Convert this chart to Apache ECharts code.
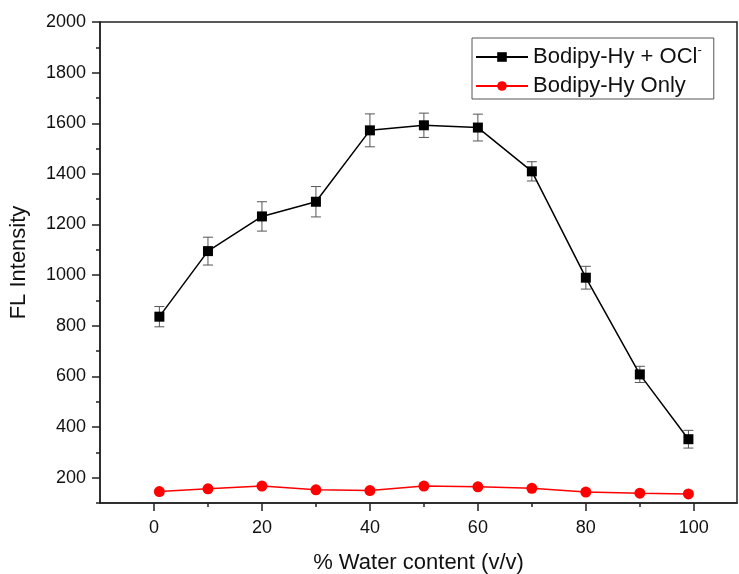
<!DOCTYPE html>
<html>
<head>
<meta charset="utf-8">
<script src="https://cdn.jsdelivr.net/npm/echarts@6/dist/echarts.min.js"></script>
<style>
  html, body { margin: 0; padding: 0; background: #fff; }
  #chart { width: 739px; height: 574px; }
</style>
</head>
<body>
<div id="chart"></div>
<script>
// % water content (v/v)
const water = [1, 10, 20, 30, 40, 50, 60, 70, 80, 90, 99]
// Bodipy-Hy + OCl- and its error (+/-)
const withOCl = [836, 1095, 1232, 1290, 1572, 1592, 1583, 1410, 990, 608, 352]
const withOClErr = [40, 55, 58, 60, 65, 48, 53, 38, 45, 32, 35]
// Bodipy-Hy only
const probeOnly = [145, 156, 167, 152, 149, 167, 164, 158, 143, 139, 136]

// tick labels / tick positions
const xTicks = [0, 20, 40, 60, 80, 100]
const xMinor = [10, 30, 50, 70, 90]
const yTicks = [200, 400, 600, 800, 1000, 1200, 1400, 1600, 1800, 2000]
const yMinor = [100, 300, 500, 700, 900, 1100, 1300, 1500, 1700, 1900]

const chart = echarts.init(document.getElementById('chart'))

const font = 'Liberation Sans, Arial, sans-serif'
const axisColor = '#222'

const errData = water.map((x, i) => [x, withOCl[i] - withOClErr[i], withOCl[i] + withOClErr[i]])

function renderErr(params, api) {
  const x = api.value(0)
  const lo = api.coord([x, api.value(1)])
  const hi = api.coord([x, api.value(2)])
  const half = 5
  const style = { stroke: '#555', lineWidth: 1, fill: null }
  return {
    type: 'group',
    children: [
      { type: 'line', shape: { x1: lo[0], y1: lo[1], x2: hi[0], y2: hi[1] }, style },
      { type: 'line', shape: { x1: lo[0] - half, y1: lo[1], x2: lo[0] + half, y2: lo[1] }, style },
      { type: 'line', shape: { x1: hi[0] - half, y1: hi[1], x2: hi[0] + half, y2: hi[1] }, style }
    ]
  }
}

const tickStyle = { color: axisColor, width: 1.5 }
const plain = v => String(v)

const option = {
  backgroundColor: '#fff',
  animation: false,
  textStyle: { fontFamily: font },
  grid: {
    left: 100, right: 2, top: 22, bottom: 71,
    outerBoundsMode: 'none',
    containLabel: false,
    show: true, borderColor: axisColor, borderWidth: 1.5,
    backgroundColor: 'transparent'
  },
  legend: {
    orient: 'vertical',
    left: 472, top: 38,
    data: ['Bodipy-Hy + OCl', 'Bodipy-Hy Only'],
    itemWidth: 52, itemHeight: 12, itemGap: 7,
    padding: [6, 12, 2, 3],
    borderColor: '#555', borderWidth: 1,
    formatter: function (name) {
      if (name === 'Bodipy-Hy + OCl') return '{t|' + name + '}{s|-}'
      return '{t|' + name + '}'
    },
    textStyle: {
      fontFamily: font, fontSize: 22, color: '#111',
      rich: {
        t: { fontSize: 22, fontFamily: font, color: '#111', lineHeight: 26 },
        s: { fontSize: 13, fontFamily: font, color: '#111', verticalAlign: 'top', lineHeight: 16 }
      }
    }
  },
  xAxis: [
    {
      type: 'value', min: -10, max: 108, position: 'bottom',
      name: '% Water content (v/v)', nameLocation: 'middle', nameGap: 49,
      nameTextStyle: { fontSize: 22, color: '#111', fontFamily: font },
      axisLine: { show: true, onZero: false, lineStyle: tickStyle },
      axisTick: { show: true, inside: false, length: 8, customValues: xTicks, lineStyle: tickStyle },
      axisLabel: { fontSize: 18, color: '#111', margin: 16, fontFamily: font, customValues: xTicks, formatter: plain },
      splitLine: { show: false }
    },
    {
      type: 'value', min: -10, max: 108, position: 'bottom',
      axisLine: { show: false, onZero: false },
      axisTick: { show: true, inside: false, length: 4, customValues: xMinor, lineStyle: tickStyle },
      axisLabel: { show: false },
      splitLine: { show: false }
    }
  ],
  yAxis: [
    {
      type: 'value', min: 100, max: 2000, position: 'left',
      name: 'FL Intensity', nameLocation: 'middle', nameGap: 70,
      nameTextStyle: { fontSize: 22, color: '#111', fontFamily: font },
      axisLine: { show: true, onZero: false, lineStyle: tickStyle },
      axisTick: { show: true, inside: false, length: 8, customValues: yTicks, lineStyle: tickStyle },
      axisLabel: { fontSize: 18, color: '#111', margin: 14, fontFamily: font, customValues: yTicks, formatter: plain },
      splitLine: { show: false }
    },
    {
      type: 'value', min: 100, max: 2000, position: 'left',
      axisLine: { show: false, onZero: false },
      axisTick: { show: true, inside: false, length: 4, customValues: yMinor, lineStyle: tickStyle },
      axisLabel: { show: false },
      splitLine: { show: false }
    }
  ],
  series: [
    {
      name: 'errors',
      type: 'custom',
      xAxisIndex: 0, yAxisIndex: 0,
      renderItem: renderErr,
      encode: { x: 0, y: [1, 2] },
      data: errData,
      z: 1
    },
    {
      name: 'Bodipy-Hy + OCl',
      type: 'line',
      xAxisIndex: 0, yAxisIndex: 0,
      data: water.map((x, i) => [x, withOCl[i]]),
      symbol: 'rect', symbolSize: 10,
      itemStyle: { color: '#000' },
      lineStyle: { color: '#000', width: 1.5 },
      z: 3
    },
    {
      name: 'Bodipy-Hy Only',
      type: 'line',
      xAxisIndex: 0, yAxisIndex: 0,
      data: water.map((x, i) => [x, probeOnly[i]]),
      symbol: 'circle', symbolSize: 11,
      itemStyle: { color: '#ff0000' },
      lineStyle: { color: '#ff0000', width: 1.5 },
      z: 3
    }
  ]
}

chart.setOption(option)
</script>
</body>
</html>
